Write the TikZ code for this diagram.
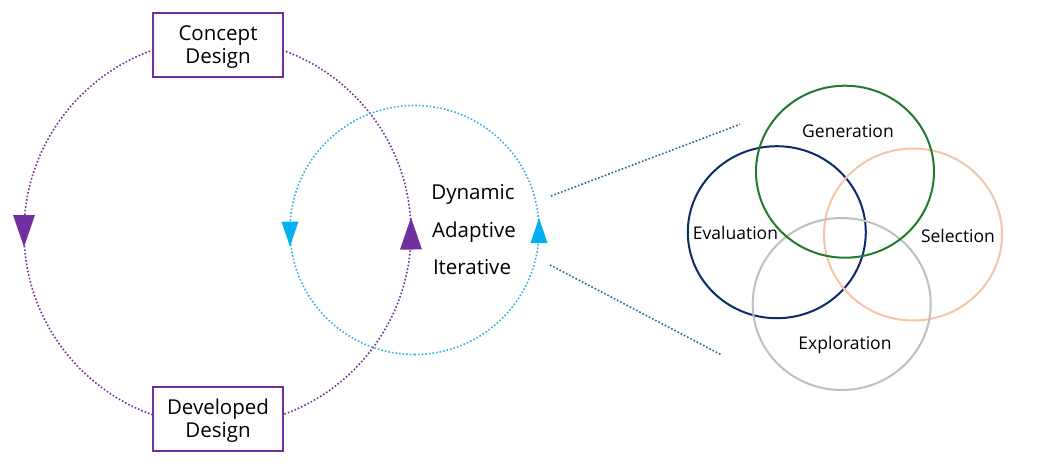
\documentclass[tikz,border=0pt]{standalone}
\usepackage{fontspec}
\setmainfont{Open Sans}
\usetikzlibrary{arrows.meta,decorations.markings,shapes.geometric}
\definecolor{cpurple}{HTML}{7030A0}
\definecolor{ccyanline}{HTML}{3AAFE0}
\definecolor{ccyan}{HTML}{00B0F0}
\definecolor{clink}{HTML}{1F6B94}
\definecolor{cgreen}{HTML}{217A2E}
\definecolor{cnavy}{HTML}{0E2A6B}
\definecolor{cpeach}{HTML}{F6C5A8}
\definecolor{cgray}{HTML}{BFBFBF}
\tikzset{
  loopline/.style={line width=1.6pt, dash pattern=on 1.6pt off 2pt},
  stagebox/.style={draw=cpurple, line width=2pt, fill=white, minimum width=130pt,
    minimum height=64pt, inner sep=0pt},
  boxtext/.style={align=center, inner sep=0pt, font=\fontsize{20.5}{23}\selectfont},
  bigtext/.style={font=\fontsize{20.5}{24}\selectfont, anchor=base, inner sep=0pt},
  venn/.style={ellipse, line width=2pt, minimum width=178pt, minimum height=172pt, inner sep=0pt},
  vennlabel/.style={font=\fontsize{17.5}{20}\selectfont, anchor=base, inner sep=0pt},
  linkline/.style={draw=clink, line width=1.6pt, dash pattern=on 1.6pt off 2pt}
}
\newcommand{\bigtri}[2]{\fill[#1] (#2+16pt,0pt) -- (#2-16pt,11pt) -- (#2-16pt,-11pt) -- cycle;}
\newcommand{\smalltri}[2]{\fill[#1] (#2+12.5pt,0pt) -- (#2-12.5pt,8.5pt) -- (#2-12.5pt,-8.5pt) -- cycle;}
\begin{document}
\begin{tikzpicture}[x=1pt,y=-1pt]
\useasboundingbox (0,0) rectangle (1045,472);
\fill[white] (0,0) rectangle (1045,472);

% purple loop
\coordinate (pc) at (217.5,232.5);
\draw[loopline, draw=cpurple, fill=none,
  postaction={decorate},
  decoration={markings,
    mark=at position 0.25 with {\bigtri{cpurple}{-1pt}},
    mark=at position 0.75 with {\bigtri{cpurple}{-1.5pt}}}]
  (pc) ++(90:193.5) arc[start angle=90, end angle=-270, radius=193.5];

% cyan loop
\coordinate (cc) at (414.5,230);
\draw[loopline, draw=ccyanline, fill=none,
  postaction={decorate},
  decoration={markings,
    mark=at position 0.25 with {\smalltri{ccyan}{-0.5pt}},
    mark=at position 0.75 with {\smalltri{ccyan}{4pt}}}]
  (cc) ++(90:124.5) arc[start angle=90, end angle=-270, radius=124.5];

% boxes
\node[stagebox] (concept) at (218,45) {};
\node[boxtext] (conceptt) at (218,47) {Concept\\Design};
\node[stagebox] (developed) at (218,418.5) {};
\node[boxtext] (developedt) at (218,420.5) {Developed\\Design};

% central words
\node[bigtext] (dyn) at (473,199) {Dynamic};
\node[bigtext] (adp) at (474,237) {Adaptive};
\node[bigtext] (itr) at (472,274) {Iterative};

% Venn
\node[venn, draw=cnavy] (eval) at (776.8,232.2) {};
\node[venn, draw=cpeach] (sel) at (913,234.5) {};
\node[venn, draw=cgray] (expl) at (841.7,304) {};
\node[venn, draw=cgreen] (gen) at (845,171.7) {};

\node[vennlabel] (genl) at (848,137.3) {Generation};
\node[vennlabel] (evall) at (735.5,239.3) {Evaluation};
\node[vennlabel] (sell) at (958,242) {Selection};
\node[vennlabel] (expll) at (845,349.3) {Exploration};

% links
\coordinate (l1s) at (551,196);
\coordinate (l1e) at (740,124.3);
\coordinate (l2s) at (550,265);
\coordinate (l2e) at (721.7,355);
\draw[linkline] (l1s) -- (l1e);
\draw[linkline] (l2s) -- (l2e);
\end{tikzpicture}
\end{document}
